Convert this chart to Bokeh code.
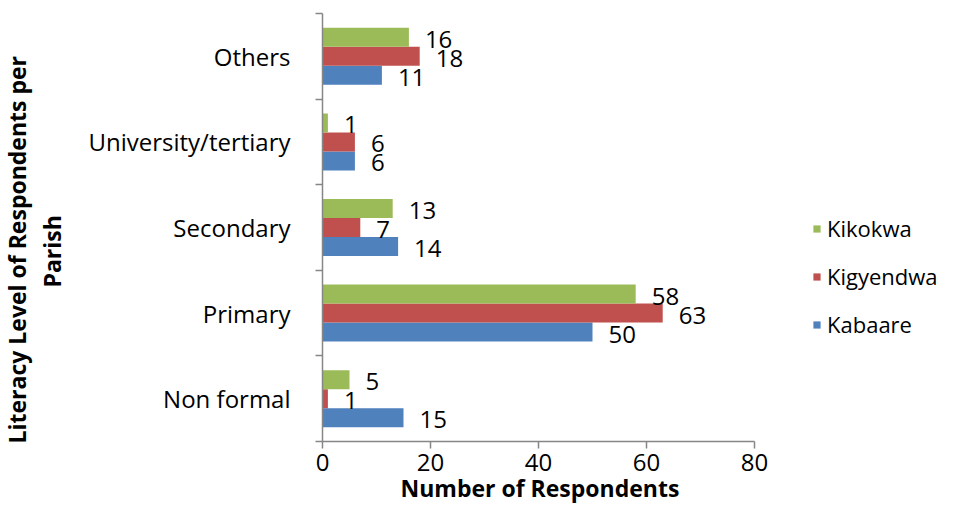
from bokeh.plotting import figure
from bokeh.models import Range1d, FixedTicker, ColumnDataSource, Legend, LegendItem, Title
from bokeh.transform import dodge
from bokeh.core.properties import value
from bokeh.embed import file_html
from bokeh.resources import INLINE

categories = ["Non formal", "Primary", "Secondary", "University/tertiary", "Others"]
kabaare = [15, 50, 14, 6, 11]
kigyendwa = [1, 63, 7, 6, 18]
kikokwa = [5, 58, 13, 1, 16]
x_ticks = [0, 20, 40, 60, 80]

FONT = "Open Sans"
GREEN = "#9BBB59"
RED = "#C0504D"
BLUE = "#4F81BD"
AXIS = "#868686"

n = len(categories)
W, H = 944, 512
LEFT = 322          # frame left edge
AXIS_PX = 432       # pixels spanned by 0..80 on the value axis
x_end = x_ticks[-1] * (W - LEFT) / AXIS_PX   # frame reaches the right edge (room for legend)

p = figure(width=W, height=H, x_range=Range1d(0, x_end), y_range=Range1d(0, n),
           output_backend="svg", toolbar_location=None,
           min_border_left=LEFT, min_border_right=0, min_border_top=13, min_border_bottom=71)
p.outline_line_color = None
p.xgrid.visible = False
p.ygrid.visible = False

centers = [i + 0.5 for i in range(n)]
src = ColumnDataSource(dict(y=centers, cat=categories,
                            kabaare=kabaare, kigyendwa=kigyendwa, kikokwa=kikokwa,
                            l_kab=[str(v) for v in kabaare],
                            l_kig=[str(v) for v in kigyendwa],
                            l_kik=[str(v) for v in kikokwa]))

bh = 0.222
series = [("kabaare", "l_kab", -bh, BLUE, "Kabaare"),
          ("kigyendwa", "l_kig", 0.0, RED, "Kigyendwa"),
          ("kikokwa", "l_kik", bh, GREEN, "Kikokwa")]
rends = {}
for col, lcol, off, color, name in series:
    r = p.hbar(y=dodge("y", off, range=p.y_range), right=col, left=0, height=bh,
               source=src, fill_color=color, line_color=None)
    rends[name] = r
    p.text(x=col, y=dodge("y", off, range=p.y_range), text=lcol, source=src,
           x_offset=16, y_offset=2, text_align="left", text_baseline="middle",
           text_font=value(FONT), text_font_size="24px", text_color="#000000")

# x axis (drawn only over 0..80)
xa = p.xaxis[0]
xa.bounds = (x_ticks[0], x_ticks[-1])
xa.ticker = FixedTicker(ticks=x_ticks)
xa.axis_line_color = AXIS
xa.axis_line_width = 1.5
xa.major_tick_line_color = AXIS
xa.major_tick_line_width = 1.5
xa.major_tick_out = 7
xa.major_tick_in = 0
xa.minor_tick_line_color = None
xa.major_label_text_font = FONT
xa.major_label_text_font_size = "24px"
xa.major_label_text_color = "#000000"
xa.major_label_standoff = 5

# y axis: labels at band centres, ticks at band boundaries
ya = p.yaxis[0]
ya.ticker = FixedTicker(ticks=centers, minor_ticks=list(range(n + 1)))
ya.major_label_overrides = {c: name for c, name in zip(centers, categories)}
ya.axis_line_color = AXIS
ya.axis_line_width = 1.5
ya.major_tick_out = 0
ya.major_tick_in = 0
ya.major_tick_line_color = None
ya.minor_tick_line_color = AXIS
ya.minor_tick_line_width = 1.5
ya.minor_tick_out = 7
ya.minor_tick_in = 0
ya.major_label_text_font = FONT
ya.major_label_text_font_size = "24px"
ya.major_label_text_color = "#000000"
ya.major_label_standoff = 25

# x title
t_x = Title(text="Number  of  Respondents", align="left", offset=78,
            text_font=FONT, text_font_size="23px", text_font_style="bold",
            text_color="#000000")
try:
    t_x.standoff = -8
except Exception:
    t_x.standoff = 0
p.add_layout(t_x, "below")

# two-line y title as side titles
t_parish = Title(text="Parish", align="left", offset=154, standoff=36,
                 text_font=FONT, text_font_size="23px", text_font_style="bold",
                 text_color="#000000")
t_main = Title(text="Literacy Level  of  Respondents per", align="left", offset=-2,
               text_font=FONT, text_font_size="23px", text_font_style="bold",
               text_color="#000000")
try:
    t_main.standoff = -34
except Exception:
    t_main.standoff = 0
p.add_layout(t_parish, "left")
p.add_layout(t_main, "left")

legend = Legend(items=[LegendItem(label="Kikokwa", renderers=[rends["Kikokwa"]]),
                       LegendItem(label="Kigyendwa", renderers=[rends["Kigyendwa"]]),
                       LegendItem(label="Kabaare", renderers=[rends["Kabaare"]])],
                location=(490, 102), orientation="vertical",
                glyph_width=9, glyph_height=9, label_standoff=6, spacing=18,
                label_height=30, padding=0, margin=0,
                border_line_color=None, background_fill_alpha=0,
                label_text_font=FONT, label_text_font_size="22px", label_text_color="#000000")
p.add_layout(legend)

open("out.html", "w").write(file_html(p, INLINE))
